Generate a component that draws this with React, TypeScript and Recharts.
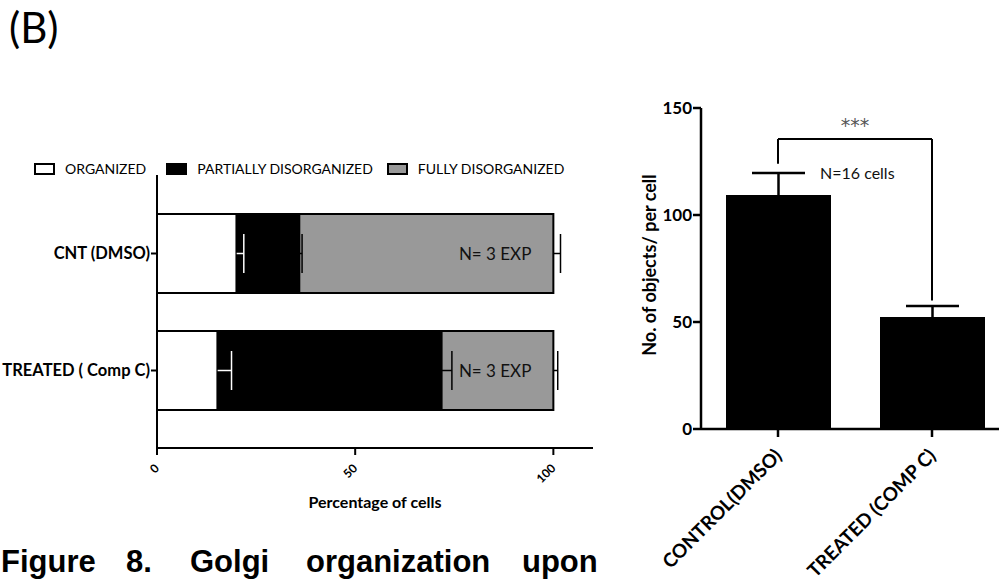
import {
  BarChart,
  ComposedChart,
  Bar,
  XAxis,
  YAxis,
  ErrorBar,
  Legend,
  LabelList,
  Label,
  ReferenceLine,
  ReferenceDot,
} from 'recharts';

// left panel: Golgi organization, % of cells
const groups = ['CNT (DMSO)', 'TREATED ( Comp C)'];
const organized = [20.1, 15.3];
const partially = [15.8, 56.5];
const fully = [64.1, 28.2];
const organizedErr = [1.8, 3.5];
const partiallyErr = [0.7, 2.6];
const fullyErr = [1.8, 1.1];
const expLabels = ['N= 3 EXP', 'N= 3 EXP'];
const pctTicks = [0, 50, 100];
const legendOrder = ['ORGANIZED', 'PARTIALLY DISORGANIZED', 'FULLY DISORGANIZED'];

// right panel: number of objects per cell
const conditions = ['CONTROL(DMSO)', 'TREATED (COMP C)'];
const objects = [109.3, 52.3];
const objectsErr = [10.3, 5.2];
const objectTicks = [0, 50, 100, 150];
const sigLevel = 135.5;
const sigLegEnds = [124, 60];

const FONT = "Lato, 'Open Sans', sans-serif";

const leftRows = groups.map((g, i) => ({
  name: g,
  organized: organized[i],
  partially: partially[i],
  fully: fully[i],
  orgErr: organizedErr[i],
  parErr: partiallyErr[i],
  fulErr: fullyErr[i],
  exp: expLabels[i],
}));

const rightRows = conditions.map((c, i) => ({
  name: c,
  value: objects[i],
  err: objectsErr[i],
}));

const PctTick = ({ x, y, payload }: any) => (
  <g transform={`translate(${x + 3},${y + 12})`}>
    <text
      textAnchor="end"
      transform="rotate(-45)"
      fontSize={12}
      fontWeight={700}
      fontFamily={FONT}
      fill="#000"
    >
      {payload.value}
    </text>
  </g>
);

const CondTick = ({ x, y, payload }: any) => (
  <g transform={`translate(${x + 5},${y + 18})`}>
    <text
      textAnchor="end"
      transform="rotate(-45)"
      fontSize={19}
      fontWeight={700}
      fontFamily={FONT}
      fill="#000"
    >
      {payload.value}
    </text>
  </g>
);

const LegendBoxes = ({ payload }: any) => {
  const items = [...(payload || [])].sort(
    (a: any, b: any) => legendOrder.indexOf(a.value) - legendOrder.indexOf(b.value)
  );
  return (
    <div
      style={{
        display: 'flex',
        alignItems: 'center',
        fontFamily: FONT,
        fontSize: 14,
        color: '#000',
        whiteSpace: 'nowrap',
      }}
    >
      {items.map((p: any, i: number) => (
        <div key={i} style={{ display: 'flex', alignItems: 'center', marginRight: i === 0 ? 20 : 14 }}>
          <span
            style={{
              display: 'inline-block',
              width: 17,
              height: 8,
              border: '2px solid #000',
              background: p.color,
              marginRight: 10,
            }}
          />
          <span>{p.value}</span>
        </div>
      ))}
    </div>
  );
};

// one-sided error bar at the right end of a stacked segment
const errShape = (valueKey: string, errKey: string, color: string) => (props: any) => {
  const { x, y, width, height, payload } = props;
  const v = payload?.[valueKey];
  const e = payload?.[errKey];
  if (!v || !e) return <g />;
  const x0 = x + width;
  const x1 = x0 + (e * width) / v;
  const cy = y + height / 2;
  return (
    <g stroke={color} strokeWidth={1.5}>
      <line x1={x0} y1={cy} x2={x1} y2={cy} />
      <line x1={x1} y1={cy - 19.5} x2={x1} y2={cy + 19.5} />
    </g>
  );
};

const BAR_SIZE = 79;

export default function App() {
  return (
    <div
      style={{
        position: 'absolute',
        left: 0,
        top: 0,
        width: 999,
        height: 582,
        overflow: 'hidden',
        background: '#fff',
      }}
    >
      {/* left: stacked horizontal bars */}
      <div style={{ position: 'absolute', left: 0, top: 0 }}>
        <ComposedChart
          width={600}
          height={520}
          data={leftRows}
          layout="vertical"
          margin={{ top: 175, right: 7, bottom: 0, left: 0 }}
        >
          <XAxis
            type="number"
            domain={[0, 110]}
            ticks={pctTicks}
            interval={0}
            height={72}
            stroke="#000"
            strokeWidth={2}
            tickSize={7}
            tick={<PctTick />}
          >
            <Label
              value="Percentage of cells"
              position="insideBottom"
              offset={12}
              style={{ fontFamily: FONT, fontWeight: 700, fontSize: 16, fill: '#000' }}
            />
          </XAxis>
          <YAxis
            type="category"
            dataKey="name"
            width={157}
            padding={{ top: 20, bottom: 19 }}
            stroke="#000"
            strokeWidth={2}
            tickSize={6}
            tickMargin={1}
            tick={{ fill: '#000', fontSize: 16.5, fontWeight: 700, fontFamily: FONT }}
          />
          <Legend
            layout="horizontal"
            verticalAlign="middle"
            align="center"
            wrapperStyle={{ left: 34, top: 160, width: 'auto' }}
            content={<LegendBoxes />}
          />
          <Bar
            dataKey="organized"
            name="ORGANIZED"
            stackId="s"
            fill="#fff"
            stroke="#000"
            strokeWidth={2}
            barSize={BAR_SIZE}
            isAnimationActive={false}
          />
          <Bar
            dataKey="partially"
            name="PARTIALLY DISORGANIZED"
            stackId="s"
            fill="#000"
            stroke="#000"
            strokeWidth={2}
            barSize={BAR_SIZE}
            isAnimationActive={false}
          />
          <Bar
            dataKey="fully"
            name="FULLY DISORGANIZED"
            stackId="s"
            fill="#999"
            stroke="#000"
            strokeWidth={2}
            barSize={BAR_SIZE}
            isAnimationActive={false}
          >
            <LabelList
              dataKey="exp"
              position="insideRight"
              offset={22}
              style={{ fontFamily: FONT, fontSize: 17, fill: '#111' }}
            />
          </Bar>
        </ComposedChart>
      </div>

      {/* left: error bars drawn on top of all segments */}
      <div style={{ position: 'absolute', left: 0, top: 0 }}>
        <ComposedChart
          width={600}
          height={520}
          data={leftRows}
          layout="vertical"
          margin={{ top: 175, right: 7, bottom: 72, left: 157 }}
        >
          <XAxis type="number" domain={[0, 110]} hide />
          <YAxis type="category" dataKey="name" hide padding={{ top: 20, bottom: 19 }} />
          <Bar
            dataKey="organized"
            stackId="s"
            barSize={BAR_SIZE}
            isAnimationActive={false}
            shape={errShape('organized', 'orgErr', '#fff')}
          />
          <Bar
            dataKey="partially"
            stackId="s"
            barSize={BAR_SIZE}
            isAnimationActive={false}
            shape={errShape('partially', 'parErr', '#000')}
          />
          <Bar
            dataKey="fully"
            stackId="s"
            barSize={BAR_SIZE}
            isAnimationActive={false}
            shape={errShape('fully', 'fulErr', '#000')}
          />
        </ComposedChart>
      </div>

      {/* right: objects per cell */}
      <div style={{ position: 'absolute', left: 600, top: 0 }}>
        <BarChart width={420} height={582} data={rightRows} margin={{ top: 108, right: 11, bottom: 0, left: 0 }}>
          <XAxis
            dataKey="name"
            height={153}
            interval={0}
            stroke="#000"
            strokeWidth={2.5}
            tickSize={8}
            tick={<CondTick />}
          />
          <YAxis
            domain={[0, 150]}
            ticks={objectTicks}
            interval={0}
            width={101}
            stroke="#000"
            strokeWidth={2.5}
            tickSize={8}
            tickMargin={1}
            tick={{ fill: '#000', fontSize: 17, fontWeight: 700, fontFamily: FONT }}
          />
          <Bar dataKey="value" fill="#000" barSize={105} isAnimationActive={false}>
            <ErrorBar dataKey="err" direction="y" width={26.5} stroke="#000" strokeWidth={2.5} />
          </Bar>
          <ReferenceLine
            segment={[
              { x: conditions[0], y: sigLevel },
              { x: conditions[1], y: sigLevel },
            ]}
            stroke="#000"
            strokeWidth={2}
            ifOverflow="visible"
            label={{
              value: '***',
              position: 'top',
              offset: 7,
              fill: '#555',
              fontSize: 19,
              fontFamily: "'DejaVu Sans', sans-serif",
            }}
          />
          <ReferenceLine
            segment={[
              { x: conditions[0], y: sigLevel },
              { x: conditions[0], y: sigLegEnds[0] },
            ]}
            stroke="#000"
            strokeWidth={2}
            ifOverflow="visible"
          />
          <ReferenceLine
            segment={[
              { x: conditions[1], y: sigLevel },
              { x: conditions[1], y: sigLegEnds[1] },
            ]}
            stroke="#000"
            strokeWidth={2}
            ifOverflow="visible"
          />
          <ReferenceDot
            x={conditions[0]}
            y={objects[0] + objectsErr[0]}
            r={0}
            stroke="none"
            fill="none"
            ifOverflow="visible"
            label={{
              value: 'N=16 cells',
              position: 'right',
              offset: 42,
              fill: '#111',
              fontSize: 16,
              fontFamily: FONT,
            }}
          />
        </BarChart>
      </div>

      {/* panel letter, axis title and caption */}
      <svg width={999} height={582} style={{ position: 'absolute', left: 0, top: 0, pointerEvents: 'none' }}>
        <text x={9} y={43} fontFamily={FONT} fontSize={42} fill="#000">
          (B)
        </text>
        <text
          x={656}
          y={265}
          transform="rotate(-90 656 265)"
          textAnchor="middle"
          fontFamily={FONT}
          fontSize={18}
          fontWeight={700}
          fill="#000"
        >
          No. of objects/ per cell
        </text>
        <g fontFamily="'Liberation Sans', Arial, sans-serif" fontWeight={700} fontSize={31} fill="#000">
          <text x={1} y={572}>Figure</text>
          <text x={126} y={572}>8.</text>
          <text x={190} y={572}>Golgi</text>
          <text x={306} y={572}>organization</text>
          <text x={522} y={572}>upon</text>
        </g>
      </svg>
    </div>
  );
}
